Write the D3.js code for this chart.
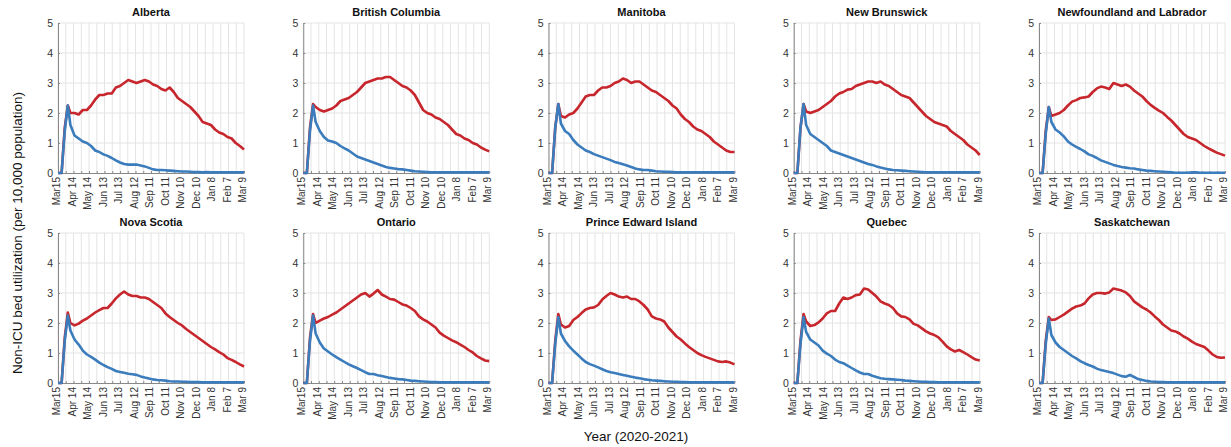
<!DOCTYPE html>
<html>
<head>
<meta charset="utf-8">
<script src="https://cdn.jsdelivr.net/npm/d3@7"></script>
<style>
  body { margin: 0; background: #fff; }
  text { font-family: "Liberation Sans", Arial, Helvetica, sans-serif; }
</style>
</head>
<body>
<div id="chart"></div>
<script>
// days since Mar 15 2020 at which values were read
var days = [0, 7, 13, 19, 24, 32, 40, 48, 56, 64, 72, 80, 88, 96, 104, 112, 120, 128, 136, 144, 152, 160, 168, 176, 184, 192, 200, 208, 216, 224, 232, 240, 248, 256, 264, 272, 280, 288, 296, 304, 312, 320, 328, 336, 344, 352, 360];

var tickDays = [0, 30, 60, 90, 120, 150, 180, 210, 240, 270, 300, 330, 360];
var tickLabels = ["Mar15", "Apr 14", "May 14", "Jun 13", "Jul 13", "Aug 12", "Sep 11", "Oct 11", "Nov 10", "Dec 10", "Jan 8", "Feb 7", "Mar 9"];

var provinces = ["Alberta", "British Columbia", "Manitoba", "New Brunswick", "Newfoundland and Labrador",
                 "Nova Scotia", "Ontario", "Prince Edward Island", "Quebec", "Saskatchewan"];

// red series
var redAB = [0, 0, 1.5, 2.25, 2.0, 2.0, 1.95, 2.1, 2.1, 2.25, 2.45, 2.6, 2.6, 2.65, 2.65, 2.85, 2.9, 3.0, 3.1, 3.05, 3.0, 3.05, 3.1, 3.05, 2.95, 2.9, 2.8, 2.75, 2.85, 2.7, 2.5, 2.4, 2.3, 2.2, 2.05, 1.9, 1.7, 1.65, 1.6, 1.45, 1.35, 1.3, 1.2, 1.15, 1.0, 0.9, 0.78];
var redBC = [0, 0, 1.5, 2.3, 2.2, 2.1, 2.05, 2.1, 2.15, 2.25, 2.4, 2.45, 2.5, 2.6, 2.7, 2.85, 3.0, 3.05, 3.1, 3.15, 3.15, 3.2, 3.2, 3.1, 3.0, 2.9, 2.85, 2.75, 2.6, 2.35, 2.1, 2.0, 1.95, 1.85, 1.8, 1.7, 1.6, 1.45, 1.3, 1.25, 1.15, 1.1, 1.0, 0.95, 0.85, 0.78, 0.72];
var redMB = [0, 0, 1.5, 2.3, 1.9, 1.85, 1.95, 2.0, 2.15, 2.35, 2.55, 2.6, 2.6, 2.75, 2.85, 2.85, 2.9, 3.0, 3.05, 3.15, 3.1, 3.0, 3.05, 3.05, 2.95, 2.85, 2.75, 2.7, 2.6, 2.5, 2.4, 2.25, 2.15, 1.95, 1.8, 1.7, 1.55, 1.45, 1.4, 1.3, 1.2, 1.05, 0.95, 0.85, 0.75, 0.7, 0.7];
var redNB = [0, 0, 1.5, 2.3, 2.05, 2.0, 2.05, 2.1, 2.2, 2.3, 2.4, 2.55, 2.65, 2.7, 2.78, 2.8, 2.9, 2.95, 3.0, 3.05, 3.05, 3.0, 3.05, 2.95, 2.9, 2.8, 2.7, 2.6, 2.55, 2.5, 2.35, 2.2, 2.05, 1.9, 1.8, 1.7, 1.65, 1.6, 1.55, 1.4, 1.3, 1.2, 1.1, 0.95, 0.85, 0.75, 0.6];
var redNL = [0, 0, 1.4, 2.2, 1.9, 1.95, 2.0, 2.1, 2.25, 2.38, 2.43, 2.5, 2.52, 2.55, 2.7, 2.82, 2.88, 2.85, 2.8, 3.0, 2.95, 2.9, 2.95, 2.88, 2.75, 2.65, 2.55, 2.4, 2.27, 2.17, 2.08, 2.0, 1.87, 1.75, 1.6, 1.45, 1.3, 1.2, 1.15, 1.1, 1.0, 0.9, 0.82, 0.75, 0.68, 0.63, 0.58];
var redNS = [0, 0, 1.5, 2.35, 2.0, 1.92, 1.98, 2.08, 2.15, 2.25, 2.35, 2.43, 2.5, 2.5, 2.65, 2.82, 2.95, 3.05, 2.95, 2.9, 2.9, 2.85, 2.85, 2.8, 2.7, 2.6, 2.5, 2.32, 2.2, 2.1, 2.0, 1.92, 1.8, 1.7, 1.6, 1.5, 1.4, 1.3, 1.2, 1.12, 1.03, 0.95, 0.83, 0.77, 0.7, 0.62, 0.55];
var redON = [0, 0, 1.5, 2.3, 2.0, 2.08, 2.15, 2.2, 2.28, 2.35, 2.45, 2.55, 2.65, 2.75, 2.85, 2.95, 3.0, 2.88, 2.98, 3.1, 2.95, 2.88, 2.8, 2.78, 2.7, 2.62, 2.58, 2.5, 2.4, 2.22, 2.12, 2.05, 1.95, 1.85, 1.68, 1.58, 1.5, 1.42, 1.36, 1.28, 1.2, 1.1, 1.02, 0.9, 0.82, 0.75, 0.73];
var redPE = [0, 0, 1.4, 2.3, 1.95, 1.85, 1.9, 2.1, 2.2, 2.33, 2.45, 2.5, 2.52, 2.6, 2.78, 2.9, 3.0, 2.95, 2.88, 2.85, 2.88, 2.8, 2.8, 2.72, 2.6, 2.45, 2.22, 2.15, 2.12, 2.05, 1.85, 1.7, 1.55, 1.45, 1.32, 1.2, 1.1, 1.0, 0.93, 0.87, 0.82, 0.77, 0.72, 0.7, 0.72, 0.68, 0.62];
var redQC = [0, 0, 1.4, 2.3, 2.05, 1.9, 1.93, 2.02, 2.15, 2.32, 2.4, 2.4, 2.65, 2.85, 2.8, 2.85, 2.93, 2.95, 3.15, 3.12, 3.0, 2.88, 2.72, 2.65, 2.6, 2.5, 2.32, 2.22, 2.2, 2.12, 1.97, 1.92, 1.82, 1.72, 1.65, 1.6, 1.52, 1.38, 1.22, 1.12, 1.05, 1.1, 1.03, 0.95, 0.86, 0.78, 0.75];
var redSK = [0, 0, 1.4, 2.2, 2.1, 2.12, 2.2, 2.28, 2.38, 2.48, 2.55, 2.58, 2.65, 2.82, 2.95, 3.0, 3.0, 2.98, 3.02, 3.15, 3.12, 3.08, 3.02, 2.9, 2.72, 2.62, 2.52, 2.45, 2.35, 2.22, 2.1, 1.95, 1.85, 1.75, 1.72, 1.65, 1.55, 1.48, 1.38, 1.3, 1.25, 1.2, 1.08, 0.95, 0.87, 0.84, 0.85];

// blue series
var blueAB = [0, 0, 1.4, 2.25, 1.6, 1.25, 1.15, 1.05, 1.0, 0.9, 0.75, 0.7, 0.62, 0.57, 0.5, 0.42, 0.35, 0.3, 0.28, 0.28, 0.28, 0.25, 0.22, 0.17, 0.12, 0.1, 0.1, 0.09, 0.08, 0.07, 0.06, 0.05, 0.05, 0.04, 0.03, 0.03, 0.02, 0.03, 0.02, 0.02, 0.02, 0.02, 0.02, 0.02, 0.02, 0.02, 0.02];
var blueBC = [0, 0, 1.4, 2.25, 1.7, 1.4, 1.2, 1.08, 1.05, 1.0, 0.9, 0.82, 0.75, 0.65, 0.55, 0.5, 0.45, 0.4, 0.35, 0.3, 0.25, 0.2, 0.17, 0.15, 0.13, 0.12, 0.1, 0.08, 0.06, 0.05, 0.04, 0.03, 0.02, 0.02, 0.02, 0.02, 0.02, 0.02, 0.02, 0.02, 0.02, 0.02, 0.02, 0.02, 0.02, 0.02, 0.02];
var blueMB = [0, 0, 1.5, 2.3, 1.65, 1.4, 1.3, 1.1, 0.95, 0.85, 0.75, 0.7, 0.63, 0.58, 0.53, 0.48, 0.43, 0.37, 0.33, 0.29, 0.25, 0.2, 0.15, 0.12, 0.1, 0.1, 0.08, 0.06, 0.05, 0.04, 0.04, 0.03, 0.02, 0.02, 0.02, 0.02, 0.02, 0.02, 0.02, 0.02, 0.02, 0.02, 0.02, 0.02, 0.02, 0.02, 0.02];
var blueNB = [0, 0, 1.5, 2.3, 1.6, 1.3, 1.2, 1.1, 1.0, 0.9, 0.75, 0.7, 0.65, 0.6, 0.55, 0.5, 0.45, 0.4, 0.35, 0.3, 0.27, 0.22, 0.18, 0.15, 0.12, 0.1, 0.09, 0.08, 0.07, 0.06, 0.05, 0.04, 0.03, 0.02, 0.02, 0.02, 0.02, 0.02, 0.02, 0.02, 0.02, 0.02, 0.02, 0.02, 0.02, 0.02, 0.02];
var blueNL = [0, 0, 1.3, 2.2, 1.7, 1.45, 1.35, 1.22, 1.05, 0.95, 0.87, 0.8, 0.72, 0.62, 0.57, 0.5, 0.42, 0.37, 0.32, 0.27, 0.23, 0.2, 0.18, 0.16, 0.15, 0.12, 0.1, 0.08, 0.07, 0.06, 0.05, 0.04, 0.03, 0.02, 0.01, 0.01, 0.01, 0.01, 0.02, 0.02, 0.01, 0.01, 0.01, 0.01, 0.01, 0.01, 0.01];
var blueNS = [0, 0, 1.4, 2.25, 1.75, 1.45, 1.28, 1.08, 0.95, 0.87, 0.78, 0.68, 0.6, 0.53, 0.47, 0.4, 0.37, 0.34, 0.31, 0.29, 0.27, 0.22, 0.18, 0.15, 0.12, 0.1, 0.09, 0.08, 0.06, 0.05, 0.05, 0.04, 0.04, 0.03, 0.03, 0.03, 0.02, 0.02, 0.02, 0.02, 0.02, 0.02, 0.02, 0.02, 0.02, 0.02, 0.02];
var blueON = [0, 0, 1.4, 2.25, 1.65, 1.35, 1.15, 1.05, 0.95, 0.86, 0.78, 0.7, 0.62, 0.56, 0.5, 0.43, 0.36, 0.3, 0.3, 0.26, 0.23, 0.2, 0.17, 0.15, 0.13, 0.12, 0.1, 0.08, 0.07, 0.06, 0.05, 0.04, 0.03, 0.03, 0.02, 0.02, 0.02, 0.02, 0.02, 0.02, 0.02, 0.02, 0.02, 0.02, 0.02, 0.02, 0.02];
var bluePE = [0, 0, 1.3, 2.2, 1.65, 1.4, 1.22, 1.08, 0.95, 0.82, 0.7, 0.63, 0.58, 0.52, 0.46, 0.4, 0.36, 0.33, 0.3, 0.27, 0.24, 0.21, 0.18, 0.16, 0.13, 0.11, 0.09, 0.08, 0.07, 0.06, 0.05, 0.04, 0.04, 0.03, 0.03, 0.02, 0.02, 0.02, 0.02, 0.02, 0.02, 0.02, 0.02, 0.02, 0.02, 0.02, 0.02];
var blueQC = [0, 0, 1.3, 2.2, 1.7, 1.45, 1.35, 1.25, 1.08, 0.98, 0.9, 0.78, 0.7, 0.66, 0.58, 0.5, 0.42, 0.35, 0.3, 0.3, 0.24, 0.2, 0.16, 0.14, 0.13, 0.12, 0.11, 0.1, 0.08, 0.07, 0.06, 0.05, 0.04, 0.04, 0.03, 0.03, 0.02, 0.02, 0.02, 0.02, 0.02, 0.02, 0.02, 0.02, 0.02, 0.02, 0.02];
var blueSK = [0, 0, 1.3, 2.15, 1.6, 1.35, 1.2, 1.1, 1.0, 0.9, 0.82, 0.73, 0.66, 0.6, 0.55, 0.48, 0.43, 0.4, 0.37, 0.33, 0.28, 0.23, 0.21, 0.27, 0.2, 0.13, 0.1, 0.07, 0.05, 0.04, 0.03, 0.03, 0.02, 0.02, 0.02, 0.02, 0.02, 0.02, 0.02, 0.02, 0.02, 0.02, 0.02, 0.02, 0.02, 0.02, 0.02];

var redSeries = [redAB, redBC, redMB, redNB, redNL, redNS, redON, redPE, redQC, redSK];
var blueSeries = [blueAB, blueBC, blueMB, blueNB, blueNL, blueNS, blueON, bluePE, blueQC, blueSK];

var W = 1231, H = 447;
var panelW = 186, panelH = 150;
var colX = d3.scaleLinear().domain([0, 4]).range([58, 1039]);
var rowY = d3.scaleLinear().domain([0, 1]).range([23, 233]);

var svg = d3.select("#chart").append("svg")
  .attr("width", W)
  .attr("height", H);

var x = d3.scaleLinear().domain([0, 360]).range([0, panelW]);
var y = d3.scaleLinear().domain([0, 5]).range([panelH, 0]);
var gridDays = d3.range(0, 361, 15);

var line = d3.line()
  .x(function(d) { return x(d[0]); })
  .y(function(d) { return y(d[1]); });

provinces.forEach(function(name, i) {
  var col = i % 5, row = Math.floor(i / 5);
  var g = svg.append("g")
    .attr("transform", "translate(" + colX(col) + "," + rowY(row) + ")");

  // grid
  g.append("g").selectAll("line").data(gridDays).join("line")
    .attr("x1", function(d) { return x(d); }).attr("x2", function(d) { return x(d); })
    .attr("y1", 0).attr("y2", panelH)
    .attr("stroke", "#e4e4e4").attr("stroke-width", 1);
  g.append("g").selectAll("line").data([1, 2, 3, 4, 5]).join("line")
    .attr("x1", 0).attr("x2", panelW)
    .attr("y1", function(d) { return y(d); }).attr("y2", function(d) { return y(d); })
    .attr("stroke", "#e4e4e4").attr("stroke-width", 1);

  // y axis
  var ya = g.append("g")
    .call(d3.axisLeft(y).tickValues([0, 1, 2, 3, 4, 5]).tickFormat(d3.format("d")).tickSizeInner(-2).tickSizeOuter(0).tickPadding(5));
  ya.select(".domain").attr("stroke", "#888");
  ya.selectAll(".tick line").attr("stroke", "#888");
  ya.selectAll("text").attr("fill", "#333").style("font-size", "10.5px");

  // x axis
  var xa = g.append("g")
    .attr("transform", "translate(0," + panelH + ")")
    .call(d3.axisBottom(x).tickValues(gridDays).tickFormat("").tickSizeInner(-2).tickSizeOuter(0));
  xa.select(".domain").attr("stroke", "#888");
  xa.selectAll(".tick line").attr("stroke", "#888");

  g.append("g").selectAll("text").data(tickDays).join("text")
    .attr("transform", function(d) { return "translate(" + (x(d) + 2) + "," + (panelH + 4) + ") rotate(-90)"; })
    .attr("text-anchor", "end")
    .attr("fill", "#333")
    .style("font-size", "10px")
    .text(function(d, k) { return tickLabels[k]; });

  // lines
  var redPts = days.map(function(d, k) { return [d, redSeries[i][k]]; });
  var bluePts = days.map(function(d, k) { return [d, blueSeries[i][k]]; });
  g.append("path").datum(redPts)
    .attr("fill", "none").attr("stroke", "#c7262c").attr("stroke-width", 2.6)
    .attr("stroke-linejoin", "round").attr("d", line);
  g.append("path").datum(bluePts)
    .attr("fill", "none").attr("stroke", "#3b7cbd").attr("stroke-width", 2.6)
    .attr("stroke-linejoin", "round").attr("d", line);

  // title
  g.append("text")
    .attr("x", panelW / 2).attr("y", -7)
    .attr("text-anchor", "middle")
    .style("font-size", "11px").style("font-weight", "bold")
    .attr("fill", "#111")
    .text(name);
});

svg.append("text")
  .attr("transform", "translate(22,233) rotate(-90)")
  .attr("text-anchor", "middle")
  .style("font-size", "13.5px")
  .attr("fill", "#111")
  .text("Non-ICU bed utilization (per 10,000 population)");

svg.append("text")
  .attr("x", 636).attr("y", 441)
  .attr("text-anchor", "middle")
  .style("font-size", "13.5px")
  .attr("fill", "#111")
  .text("Year (2020-2021)");
</script>
</body>
</html>
